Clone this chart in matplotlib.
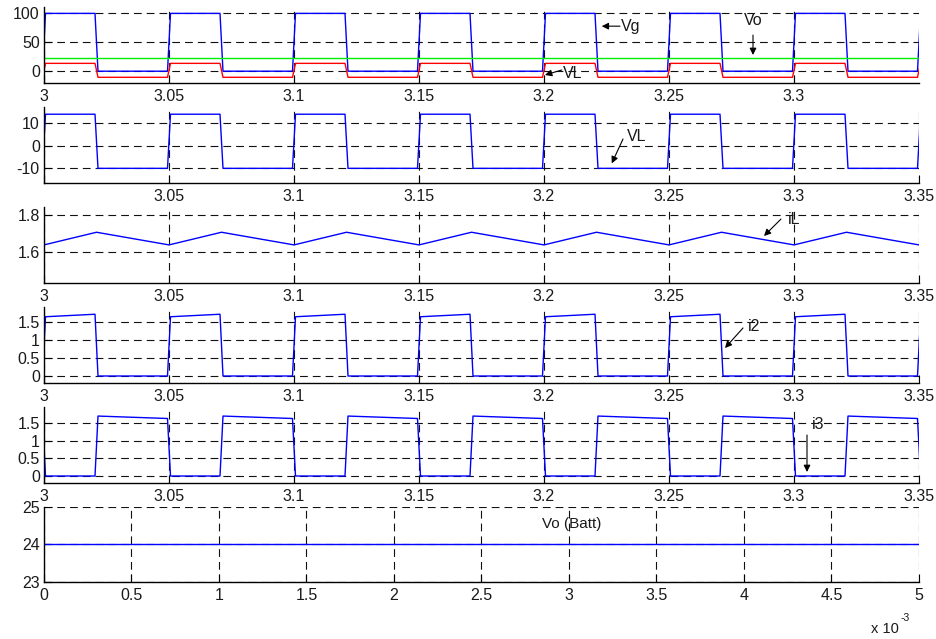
import matplotlib
matplotlib.use('Agg')
import matplotlib.pyplot as plt

plt.rcParams['font.family'] = ['Liberation Sans', 'DejaVu Sans']
plt.rcParams['axes.unicode_minus'] = False

# ---------------- data ----------------
# switching instants on the displayed time scale
t_on = [3.000, 3.050, 3.100, 3.150, 3.200, 3.250, 3.300, 3.350]
t_off = [3.021, 3.071, 3.121, 3.171, 3.221, 3.271, 3.321]
vg_low, vg_high = 0.5, 100.0          # Vg levels
vl_low, vl_high = -10.0, 14.0         # VL levels
vo_level = 24.0                       # Vo
il_valley = [1.637, 1.637, 1.637, 1.637, 1.637, 1.637, 1.637, 1.637]
il_peak = [1.706, 1.706, 1.706, 1.706, 1.706, 1.706, 1.706]
batt_t = [0.0, 5e-3]
batt_v = [24.0, 24.0]

xt_top = [3.00, 3.05, 3.10, 3.15, 3.20, 3.25, 3.30, 3.35]
xt_top_lbl = ['3', '3.05', '3.1', '3.15', '3.2', '3.25', '3.3', '3.35']
xt_bot = [0, 0.5e-3, 1e-3, 1.5e-3, 2e-3, 2.5e-3, 3e-3, 3.5e-3, 4e-3, 4.5e-3, 5e-3]
xt_bot_lbl = ['0', '0.5', '1', '1.5', '2', '2.5', '3', '3.5', '4', '4.5', '5']

EDGE = 0.0012


def square(lo, hi):
    t, y = [], []
    for k, ton in enumerate(t_on):
        t += [ton - EDGE / 2, ton + EDGE / 2]
        y += [lo, hi]
        if k < len(t_off):
            t += [t_off[k] - EDGE / 2, t_off[k] + EDGE / 2]
            y += [hi, lo]
    return t, y


def inductor():
    t, y = [], []
    for k, ton in enumerate(t_on):
        t.append(ton); y.append(il_valley[k])
        if k < len(t_off):
            t.append(t_off[k]); y.append(il_peak[k])
    return t, y


def switch_current():
    t, y = [], []
    for k, ton in enumerate(t_on):
        t += [ton - EDGE / 2, ton + EDGE / 2]
        y += [0.0, il_valley[k]]
        if k < len(t_off):
            t += [t_off[k] - EDGE / 2, t_off[k] + EDGE / 2]
            y += [il_peak[k], 0.0]
    return t, y


def diode_current():
    t = [t_on[0] - EDGE / 2, t_on[0] + EDGE / 2]
    y = [il_valley[0], 0.0]
    for k, toff in enumerate(t_off):
        t += [toff - EDGE / 2, toff + EDGE / 2,
              t_on[k + 1] - EDGE / 2, t_on[k + 1] + EDGE / 2]
        y += [0.0, il_peak[k], il_valley[k + 1], 0.0]
    return t, y


# ---------------- figure ----------------
W, H = 937, 639
fig = plt.figure(figsize=(W / 100, H / 100), dpi=100)
fig.patch.set_facecolor('white')

tops = [7, 107, 207, 307, 407, 506.7]
bots = [83, 183, 283, 383, 483, 581.7]
axes = []
for tp, bt in zip(tops, bots):
    ax = fig.add_axes([44 / W, (H - bt) / H, 875 / W, (bt - tp) / H])
    axes.append(ax)

TXT = '#1a1a1a'
FS = 11.5


def style(ax):
    for s in ['top', 'right']:
        ax.spines[s].set_visible(False)
    for s in ['left', 'bottom']:
        ax.spines[s].set_linewidth(1.0)
        ax.spines[s].set_color('black')
    ax.tick_params(direction='in', length=6, width=0.8, labelsize=FS,
                   colors='black', labelcolor=TXT)
    ax.tick_params(axis='x', pad=4.5)
    ax.tick_params(axis='y', pad=3)
    ax.grid(True, color='#111111', linestyle=(0, (7, 4.5)), linewidth=0.8)
    ax.set_axisbelow(True)


LW = 1.0
arrow = dict(arrowstyle='-|>', color='black', lw=0.8, mutation_scale=10,
             shrinkA=0, shrinkB=0)

# Panel 1: Vg, VL, Vo
ax = axes[0]
t, y = square(vg_low, vg_high)
ax.plot(t, y, color='#0000ff', lw=LW)
t, y = square(vl_low, vl_high)
ax.plot(t, y, color='#ff0000', lw=LW)
ax.plot([3.0, 3.35], [vo_level, vo_level], color='#00ee00', lw=LW)
ax.set_xlim(3.0, 3.35)
ax.set_ylim(-19.8, 111)
ax.set_xticks(xt_top[:-1])
ax.set_xticklabels(xt_top_lbl[:-1])
ax.set_yticks([0, 50, 100])
style(ax)
ax.annotate('', xy=(3.2231, 78), xytext=(3.2304, 78), arrowprops=arrow)
ax.text(3.2308, 78, 'Vg', fontsize=FS, color=TXT, va='center', ha='left')
ax.annotate('', xy=(3.2004, -6), xytext=(3.2071, 2.6), arrowprops=arrow)
ax.text(3.2076, -2.6, 'VL', fontsize=FS, color=TXT, va='center', ha='left')
ax.annotate('', xy=(3.2836, 28.4), xytext=(3.2836, 62.7), arrowprops=arrow)
ax.text(3.2836, 87, 'Vo', fontsize=FS, color=TXT, va='center', ha='center')

# Panel 2: VL
ax = axes[1]
t, y = square(vl_low, vl_high)
ax.plot(t, y, color='#0000ff', lw=LW)
ax.set_xlim(3.0, 3.35)
ax.set_ylim(-16.5, 17.2)
ax.set_xticks(xt_top)
ax.set_xticklabels([''] + xt_top_lbl[1:])
ax.set_yticks([-10, 0, 10])
style(ax)
ax.annotate('', xy=(3.2271, -7.8), xytext=(3.2316, 3.0), arrowprops=arrow)
ax.text(3.2332, 4.0, 'VL', fontsize=FS, color=TXT, va='center', ha='left')

# Panel 3: iL
ax = axes[2]
t, y = inductor()
ax.plot(t, y, color='#0000ff', lw=LW)
ax.set_xlim(3.0, 3.35)
ax.set_ylim(1.4294, 1.8436)
ax.set_xticks(xt_top)
ax.set_xticklabels(xt_top_lbl)
ax.set_yticks([1.6, 1.8])
ax.set_yticklabels(['1.6', '1.8'])
style(ax)
ax.annotate('', xy=(3.288, 1.6856), xytext=(3.2948, 1.778), arrowprops=arrow)
ax.text(3.2976, 1.7728, 'iL', fontsize=FS, color=TXT, va='center', ha='left')

# Panel 4: i2
ax = axes[3]
t, y = switch_current()
ax.plot(t, y, color='#0000ff', lw=LW)
ax.set_xlim(3.0, 3.35)
ax.set_ylim(-0.193, 1.906)
ax.set_xticks(xt_top)
ax.set_xticklabels(xt_top_lbl)
ax.set_yticks([0, 0.5, 1, 1.5])
ax.set_yticklabels(['0', '0.5', '1', '1.5'])
style(ax)
ax.annotate('', xy=(3.2724, 0.773), xytext=(3.2796, 1.326), arrowprops=arrow)
ax.text(3.2816, 1.381, 'i2', fontsize=FS, color=TXT, va='center', ha='left')

# Panel 5: i3
ax = axes[4]
t, y = diode_current()
ax.plot(t, y, color='#0000ff', lw=LW)
ax.set_xlim(3.0, 3.35)
ax.set_ylim(-0.199, 1.964)
ax.set_xticks(xt_top)
ax.set_xticklabels(xt_top_lbl)
ax.set_yticks([0, 0.5, 1, 1.5])
ax.set_yticklabels(['0', '0.5', '1', '1.5'])
style(ax)
ax.annotate('', xy=(3.3052, 0.114), xytext=(3.3052, 1.167), arrowprops=arrow)
ax.text(3.3072, 1.48, 'i3', fontsize=FS, color=TXT, va='center', ha='left')

# Panel 6: Vo (Batt)
ax = axes[5]
ax.plot(batt_t, batt_v, color='#0000ff', lw=LW)
ax.set_xlim(0, 5e-3)
ax.set_ylim(23, 25)
ax.set_xticks(xt_bot)
ax.set_xticklabels(xt_bot_lbl)
ax.set_yticks([23, 24, 25])
style(ax)
ax.text(2.846e-3, 24.54, 'Vo (Batt)', fontsize=FS - 0.5, color=TXT,
        va='center', ha='left')

fig.text(871 / W, (H - 629) / H, 'x 10', fontsize=10.5, color=TXT,
         ha='left', va='center')
fig.text(901 / W, (H - 618) / H, '-3', fontsize=7.5, color=TXT,
         ha='left', va='center')

fig.savefig('out.png', dpi=100, facecolor='white')
